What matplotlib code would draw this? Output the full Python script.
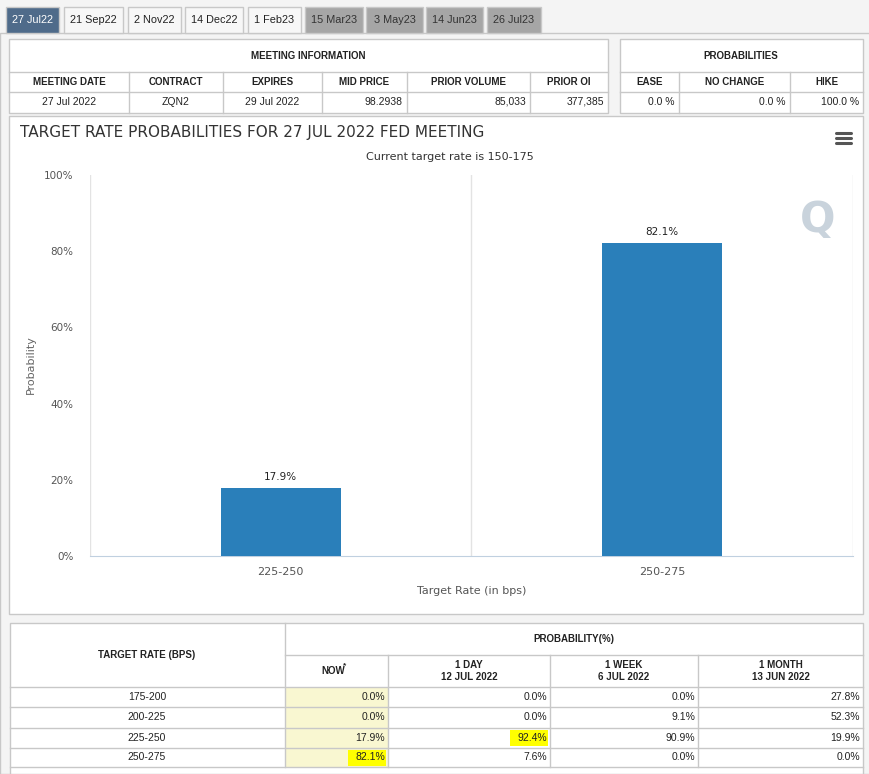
import matplotlib
matplotlib.use("Agg")
import matplotlib.pyplot as plt
from matplotlib.patches import Rectangle

tabs = ["27 Jul22", "21 Sep22", "2 Nov22", "14 Dec22", "1 Feb23", "15 Mar23", "3 May23", "14 Jun23", "26 Jul23"]
meeting_headers = ["MEETING DATE", "CONTRACT", "EXPIRES", "MID PRICE", "PRIOR VOLUME", "PRIOR OI"]
meeting_values = ["27 Jul 2022", "ZQN2", "29 Jul 2022", "98.2938", "85,033", "377,385"]
prob_headers = ["EASE", "NO CHANGE", "HIKE"]
prob_values = ["0.0 %", "0.0 %", "100.0 %"]

rates = ["225-250", "250-275"]
probs = [17.9, 82.1]

table_rates = ["175-200", "200-225", "225-250", "250-275"]
now = [0.0, 0.0, 17.9, 82.1]
one_day = [0.0, 0.0, 92.4, 7.6]
one_week = [0.0, 9.1, 90.9, 0.0]
one_month = [27.8, 52.3, 19.9, 0.0]

W, H = 870, 774
fig = plt.figure(figsize=(W / 100, H / 100), dpi=100)
bg = fig.add_axes([0, 0, 1, 1])
bg.set_xlim(0, W)
bg.set_ylim(H, 0)
bg.axis("off")

TF = ["Liberation Sans", "DejaVu Sans"]
LINE = "#c8c8c8"


def box(x0, y0, x1, y1, fc="white", ec=LINE, lw=1, z=1):
    bg.add_patch(Rectangle((x0, y0), x1 - x0, y1 - y0, fc=fc, ec=ec, lw=lw, zorder=z))


def txt(x, y, s, ha="center", size=7.5, bold=False, color="#222222", fam=TF, z=5):
    bg.text(x, y, s, ha=ha, va="center", fontsize=size, fontweight="bold" if bold else "normal",
            color=color, family=fam, zorder=z)


# page background and tabs
box(0, 0, W, H, fc="#f4f4f4", ec="none", z=0)
box(0, 33, W, H, fc="#f4f4f4", ec=LINE, z=0)
tab_x = [(6, 59), (64, 123), (128, 181), (185, 243), (248, 301), (305, 363), (366, 423), (426, 483), (487, 541)]
for i, (name, (a, b)) in enumerate(zip(tabs, tab_x)):
    if i == 0:
        fc, col = "#4f6b8a", "white"
    elif i < 5:
        fc, col = "#f7f7f7", "#222222"
    else:
        fc, col = "#a6a6a6", "#333333"
    box(a, 7, b, 33, fc=fc, ec=LINE, z=2)
    txt((a + b) / 2, 20, name, size=7.8, color=col)

# meeting information table
mcols = [9, 129, 223, 322, 407, 530, 608]
box(9, 39, 608, 113)
bg.plot([9, 608], [72, 72], color=LINE, lw=1)
bg.plot([9, 608], [92, 92], color=LINE, lw=1)
txt(308, 56, "MEETING INFORMATION", bold=True, size=7)
for i in range(6):
    a, b = mcols[i], mcols[i + 1]
    if i > 0:
        bg.plot([a, a], [72, 113], color=LINE, lw=1)
    txt((a + b) / 2, 82, meeting_headers[i], bold=True, size=7)
    if i < 3:
        txt((a + b) / 2, 102, meeting_values[i], size=7.5)
    else:
        txt(b - 4, 102, meeting_values[i], ha="right", size=7.5)

pcols = [620, 679, 790, 863]
box(620, 39, 863, 113)
bg.plot([620, 863], [72, 72], color=LINE, lw=1)
bg.plot([620, 863], [92, 92], color=LINE, lw=1)
txt(741, 56, "PROBABILITIES", bold=True, size=7)
for i in range(3):
    a, b = pcols[i], pcols[i + 1]
    if i > 0:
        bg.plot([a, a], [72, 113], color=LINE, lw=1)
    txt((a + b) / 2, 82, prob_headers[i], bold=True, size=7)
    txt(b - 4, 102, prob_values[i], ha="right", size=7.5)

# chart panel
box(9, 116, 863, 614)
txt(20, 132, "TARGET RATE PROBABILITIES FOR 27 JUL 2022 FED MEETING", ha="left", size=11, color="#333333",
    fam=["DejaVu Sans"])
txt(450, 157, "Current target rate is 150-175", size=8, color="#333333", fam=["DejaVu Sans"])
for dy in (-5, 0, 5):
    bg.plot([836, 851], [138 + dy, 138 + dy], color="#555555", lw=2.2, solid_capstyle="round")
txt(818, 220, "Q", size=30, bold=True, color="#c9d3dc", fam=["DejaVu Sans"], z=3)
txt(31, 365, "", size=8)
bg.text(31, 365, "Probability", rotation=90, ha="center", va="center", fontsize=8, color="#666666")
txt(472, 591, "Target Rate (in bps)", size=8, color="#555555", fam=["DejaVu Sans"])

ax = fig.add_axes([90 / W, (H - 556) / H, 763 / W, 381 / H])
ax.set_facecolor("none")
x = range(len(rates))
bars = ax.bar(x, probs, width=0.315, color="#2a7fba", zorder=3)
for r, p in zip(x, probs):
    ax.text(r, p + 1.5, f"{p:.1f}%", ha="center", va="bottom", fontsize=7.5, color="#222222")
ax.set_xlim(-0.5, len(rates) - 0.5)
ax.set_ylim(0, 100)
ax.set_yticks(range(0, 101, 20))
ax.set_yticklabels([f"{v}%" for v in range(0, 101, 20)], fontsize=7.5, color="#555555")
ax.set_xticks(list(x))
ax.set_xticklabels(rates, fontsize=8, color="#555555")
for b in (-0.5, 0.5, 1.5):
    ax.axvline(b, color="#e3e3e3", lw=1, zorder=1)
for s in ("top", "right", "left"):
    ax.spines[s].set_visible(False)
ax.spines["bottom"].set_color("#c0d0e0")
ax.tick_params(axis="y", length=0, pad=12)
ax.tick_params(axis="x", length=0, pad=8)

# bottom probability table
box(10, 623, 863, 774)
cols = [10, 285, 388, 550, 698, 863]
rows = [687, 707, 728, 748, 767]
bg.plot([285, 863], [655, 655], color=LINE, lw=1)
for yy in rows:
    bg.plot([10, 863], [yy, yy], color=LINE, lw=1)
bg.plot([285, 285], [623, 767], color=LINE, lw=1)
for c in cols[2:-1]:
    bg.plot([c, c], [655, 767], color=LINE, lw=1)
txt(147, 655, "TARGET RATE (BPS)", bold=True, size=7)
txt(574, 639, "PROBABILITY(%)", bold=True, size=7)
txt(333, 671, "NOW", bold=True, size=7)
txt(345, 666, "*", bold=True, size=6)
heads = ["1 DAY\n12 JUL 2022", "1 WEEK\n6 JUL 2022", "1 MONTH\n13 JUN 2022"]
for i, h in enumerate(heads):
    a, b = cols[i + 2], cols[i + 3]
    txt((a + b) / 2, 671, h, bold=True, size=7)
box(286, 687, 388, 767, fc="#f9f7d1", ec="none", z=1)
for r in range(4):
    cy = (rows[r] + rows[r + 1]) / 2
    txt(147, cy, table_rates[r], size=7.5)
    for j, series in enumerate([now, one_day, one_week, one_month]):
        right = cols[j + 2] - 3
        v = series[r]
        if (j == 0 and v == max(series)) or (j == 1 and v == max(series)):
            box(right - 37, cy - 8, right + 1, cy + 8, fc="#ffff00", ec="none", z=2)
        txt(right, cy, f"{v:.1f}%", ha="right", size=7.5)

fig.savefig("out.png", dpi=100)
